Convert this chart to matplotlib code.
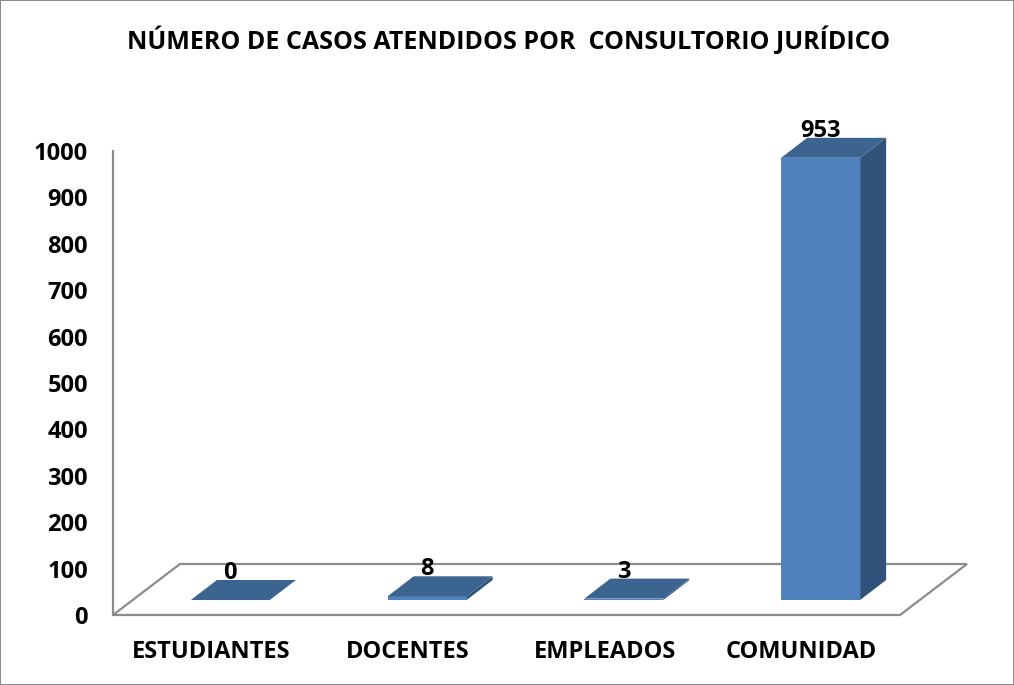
import matplotlib
matplotlib.use('Agg')
import matplotlib.pyplot as plt
from matplotlib.patches import Polygon

categories = ['ESTUDIANTES', 'DOCENTES', 'EMPLEADOS', 'COMUNIDAD']
casos = [0, 8, 3, 953]
yticks = list(range(0, 1001, 100))
titulo = 'NÚMERO DE CASOS ATENDIDOS POR  CONSULTORIO JURÍDICO'

plt.rcParams['font.family'] = ['Open Sans', 'DejaVu Sans']
plt.rcParams['font.weight'] = 'bold'

W, H = 1014, 685
fig = plt.figure(figsize=(W / 100, H / 100), dpi=100)
fig.patch.set_edgecolor('#8c8c8c')
fig.patch.set_linewidth(1.2)

# axes placed so the front plane of the 3D box lines up with the reference
left_px, right_px = 113, 900
zero_px, top_px = 615, 151
ax = fig.add_axes([left_px / W, (H - zero_px) / H,
                   (right_px - left_px) / W, (zero_px - top_px) / H])
ax.set_xlim(-0.5, len(categories) - 0.5)
ax.set_ylim(0, 1000)

px_x = (right_px - left_px) / len(categories)   # pixels per category unit
px_y = (zero_px - top_px) / 1000                # pixels per value unit


def off(dx, dy):
    # pixel offset -> data offset (dy positive means up)
    return dx / px_x, dy / px_y


# floor of the 3D box
fx, fy = off(67, 51)
floor = Polygon([(-0.5, 0), (3.5, 0), (3.5 + fx, fy), (-0.5 + fx, fy)],
                closed=True, facecolor='white', edgecolor='#8c8c8c',
                lw=1.6, zorder=1, clip_on=False)
ax.add_patch(floor)

# bars
bw = 79 / px_x
bfx, bfy = off(19, 15)   # front face position inside the box
dx, dy = off(26, 20)     # bar depth
front_c = '#4f81bd'
top_c = '#3c6491'
side_c = '#31527b'
for i, v in enumerate(casos):
    x0 = i - bw / 2 + bfx
    x1 = x0 + bw
    y0 = bfy
    y1 = bfy + v
    side = Polygon([(x1, y0), (x1 + dx, y0 + dy), (x1 + dx, y1 + dy), (x1, y1)],
                   closed=True, facecolor=side_c, edgecolor='none', zorder=3, clip_on=False)
    front = Polygon([(x0, y0), (x1, y0), (x1, y1), (x0, y1)],
                    closed=True, facecolor=front_c, edgecolor='none', zorder=4, clip_on=False)
    top = Polygon([(x0, y1), (x1, y1), (x1 + dx, y1 + dy), (x0 + dx, y1 + dy)],
                  closed=True, facecolor=top_c, edgecolor='none', zorder=4, clip_on=False)
    for p in (side, front, top):
        ax.add_patch(p)
    ax.annotate(str(v), xy=(i + bfx, y1), xytext=(0, 27 * 0.72),
                textcoords='offset points', ha='center', va='center',
                fontsize=17, fontweight='bold', zorder=6, annotation_clip=False)

# axes styling
for s in ['top', 'right', 'bottom']:
    ax.spines[s].set_visible(False)
ax.spines['left'].set_color('#8c8c8c')
ax.spines['left'].set_linewidth(1.6)
ax.spines['left'].set_zorder(2)
ax.set_yticks(yticks)
ax.set_yticklabels([str(t) for t in yticks], fontsize=17, fontweight='bold')
ax.set_xticks(range(len(categories)))
ax.set_xticklabels(categories, fontsize=17, fontweight='bold')
ax.tick_params(axis='y', length=0, pad=18)
ax.tick_params(axis='x', length=0, pad=18)
ax.patch.set_visible(False)

fig.text(509 / W, 1 - 41 / H, titulo, ha='center', va='center',
         fontsize=18, fontweight='bold')

fig.savefig('out.png', dpi=100)
